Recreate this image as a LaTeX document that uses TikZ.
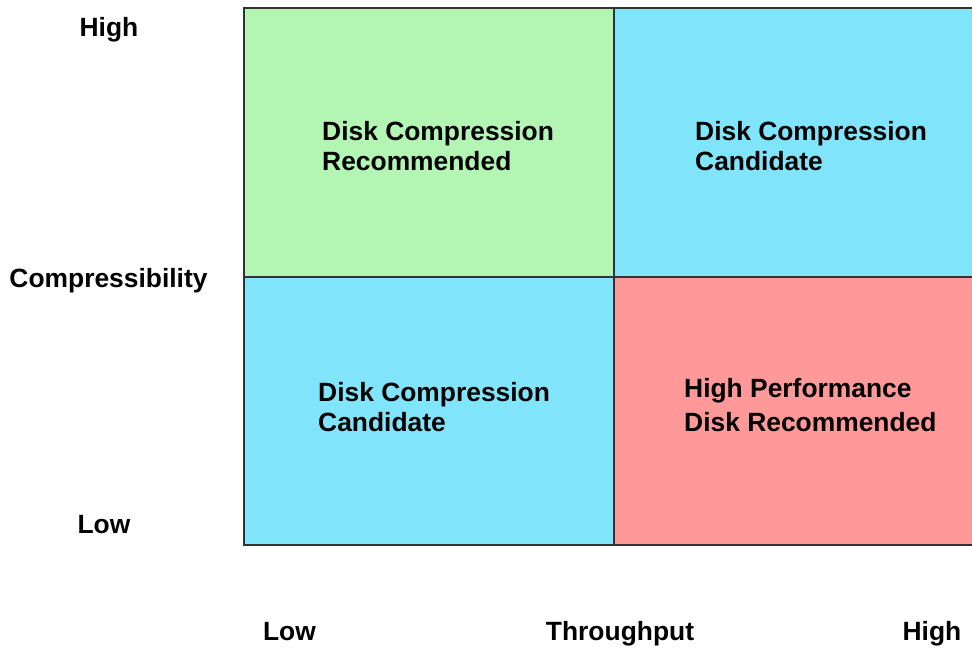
\documentclass[tikz,border=0pt]{standalone}
\usepackage{fontspec}
\setmainfont{Liberation Sans}
\definecolor{quadgreen}{RGB}{179,245,179}
\definecolor{quadcyan}{RGB}{128,229,250}
\definecolor{quadred}{RGB}{255,153,153}
\definecolor{gridline}{RGB}{50,50,50}
\begin{document}
\begin{tikzpicture}[x=1pt,y=-1pt,
  quad/.style={draw=gridline,line width=1.4pt},
  lbl/.style={font=\fontsize{26.4}{30}\selectfont\bfseries,inner sep=0pt,anchor=base},
  qtext/.style={lbl,anchor=base west}]
\useasboundingbox (0,0) rectangle (972,648);
\begin{scope}
\clip (0,0) rectangle (972,648);
% four quadrants
\fill[quadgreen] (244,8) rectangle (614,277);
\fill[quadcyan] (614,8) rectangle (990,277);
\fill[quadcyan] (244,277) rectangle (614,545);
\fill[quadred] (614,277) rectangle (990,545);
% grid lines
\draw[quad] (990,8) -- (244,8) -- (244,545) -- (990,545);
\draw[quad] (614,8) -- (614,545);
\draw[quad] (244,277) -- (990,277);
\end{scope}
% quadrant captions
\node[qtext] (ul1) at (322,140) {Disk Compression};
\node[qtext] (ul2) at (322,170) {Recommended};
\node[qtext] (ur1) at (695,140) {Disk Compression};
\node[qtext] (ur2) at (695,170) {Candidate};
\node[qtext] (ll1) at (318,401) {Disk Compression};
\node[qtext] (ll2) at (318,431) {Candidate};
\node[qtext] (lr1) at (684,397) {High Performance};
\node[qtext] (lr2) at (684,431) {Disk Recommended};
% axis labels
\node[lbl] (yhigh) at (109,36) {High};
\node[lbl] (yname) at (108.5,287) {Compressibility};
\node[lbl] (ylow) at (104,533) {Low};
\node[lbl] (xlow) at (289.5,640) {Low};
\node[lbl] (xname) at (620,640) {Throughput};
\node[lbl] (xhigh) at (932,640) {High};
\end{tikzpicture}
\end{document}
